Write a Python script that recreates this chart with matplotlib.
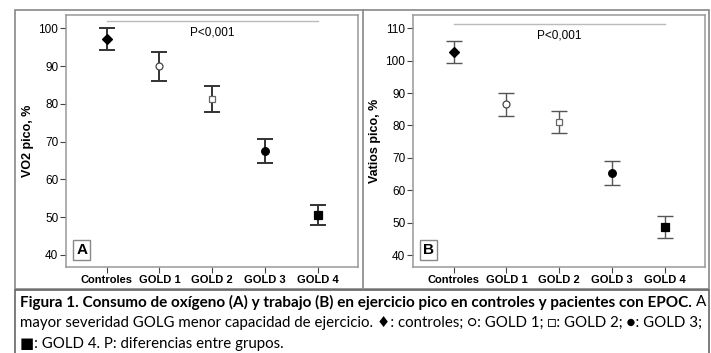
import matplotlib
matplotlib.use("Agg")
import matplotlib.pyplot as plt
from matplotlib.patches import Rectangle

# datos (media e IC)
grupos = ["Controles", "GOLD 1", "GOLD 2", "GOLD 3", "GOLD 4"]
vo2_media = [97.2, 90.0, 81.3, 67.5, 50.6]
vo2_sup = [100.0, 93.8, 84.6, 70.8, 53.3]
vo2_inf = [94.3, 86.1, 77.8, 64.3, 48.0]
vat_media = [102.6, 86.5, 81.1, 65.3, 48.6]
vat_sup = [106.2, 89.9, 84.4, 69.0, 51.9]
vat_inf = [99.2, 83.0, 77.7, 61.5, 45.4]

marcadores = ["D", "o", "s", "o", "s"]
tamanos = [5.5, 5, 5, 5.5, 5.5]
rellenos = ["black", "white", "white", "black", "black"]
bordes = ["black", "#444444", "#666666", "black", "black"]

W, H = 711, 353
fig = plt.figure(figsize=(W / 100, H / 100), dpi=100)
fig.patch.set_facecolor("white")


def px_axes(x0, y0, x1, y1):
    return fig.add_axes([x0 / W, 1 - y1 / H, (x1 - x0) / W, (y1 - y0) / H])


def panel(ax, media, sup, inf, ylim, yticks, ylabel, p_y, letra, ecol, elw):
    x = list(range(len(grupos)))
    for i in x:
        ax.errorbar(i, media[i], yerr=[[media[i] - inf[i]], [sup[i] - media[i]]],
                    fmt="none", ecolor=ecol, elinewidth=elw, capsize=5.5,
                    capthick=elw, zorder=2)
        ax.plot(i, media[i], marker=marcadores[i], ms=tamanos[i],
                mfc=rellenos[i], mec=bordes[i], mew=0.9, ls="none", zorder=3)
    ax.set_xlim(-0.77, 4.76)
    ax.set_ylim(*ylim)
    ax.set_yticks(yticks)
    ax.set_xticks(x)
    ax.set_xticklabels(grupos, fontweight="bold", fontsize=8, family="Liberation Sans")
    for lab in ax.get_yticklabels():
        lab.set_fontsize(8.5)
        lab.set_family("Liberation Sans")
    ax.tick_params(axis="both", length=4, width=0.8, color="#444444", pad=1.5)
    ax.set_ylabel(ylabel, fontweight="bold", fontsize=9, family="Liberation Sans", labelpad=3)
    for s in ax.spines.values():
        s.set_color("#999999")
        s.set_linewidth(1.1)
    # línea de diferencias entre grupos
    ax.plot([0, 4], [p_y, p_y], color="#bbbbbb", lw=1, zorder=1)
    ax.text(2, p_y - (ylim[1] - ylim[0]) * 0.045, "P<0,001", ha="center", va="center",
            fontsize=8.5, family="Liberation Sans")
    ax.text(0.035, 0.04, letra, transform=ax.transAxes, fontsize=11, fontweight="bold",
            family="Liberation Sans", ha="left", va="bottom",
            bbox=dict(boxstyle="square,pad=0.2", fc="white", ec="#888888", lw=1))


axA = px_axes(66, 15, 358, 267)
panel(axA, vo2_media, vo2_sup, vo2_inf, (36.8, 103.5), range(40, 101, 10),
      "VO2 pico, %", 101.9, "A", "#333333", 1.4)
axB = px_axes(413, 15, 705, 267)
panel(axB, vat_media, vat_sup, vat_inf, (36.3, 114.1), range(40, 111, 10),
      "Vatios pico, %", 111.2, "B", "#555555", 1.0)

# marcos de los paneles y del pie de figura
marco = "#888888"
fig.add_artist(Rectangle((15 / W, 1 - 289 / H), (709 - 15) / W, (289 - 10) / H,
                         transform=fig.transFigure, fill=False, ec=marco, lw=1.2))
fig.add_artist(plt.Line2D([363 / W, 363 / W], [1 - 289 / H, 1 - 10 / H],
                          transform=fig.transFigure, color=marco, lw=1.2))
fig.add_artist(Rectangle((15 / W, -0.01), (709 - 15) / W, 1 - 290 / H + 0.01,
                         transform=fig.transFigure, fill=False, ec="#666666", lw=1.2))

# pie de figura: cada línea se ajusta al ancho de la caja
fam = ["Lato", "DejaVu Sans"]
lineas_y = [302, 323, 344]


def linea(txt, y, x_fin, peso="normal", fs=11):
    t = fig.text(20 / W, 1 - y / H, txt, fontsize=fs, fontweight=peso, family=fam, va="center")
    fig.canvas.draw()
    ancho = t.get_window_extent().width
    t.set_fontsize(fs * (x_fin - 20) / ancho)
    fig.canvas.draw()
    return t


t1 = linea("Figura 1. Consumo de oxígeno (A) y trabajo (B) en ejercicio pico en controles y pacientes con EPOC.",
           lineas_y[0], 693, "bold")
fs_reg = t1.get_fontsize()
bb = t1.get_window_extent()
fig.text(bb.x1 / W + 4 / W, 1 - lineas_y[0] / H, "A", fontsize=fs_reg, family=fam, va="center")
t2 = linea("mayor severidad GOLG menor capacidad de ejercicio. \u2666: controles; \u25cb: GOLD 1; \u25a1: GOLD 2; \u25cf: GOLD 3;",
           lineas_y[1], 701)
fig.text(20 / W, 1 - lineas_y[2] / H, "\u25a0: GOLD 4. P: diferencias entre grupos.",
         fontsize=t2.get_fontsize(), family=fam, va="center")

fig.savefig("out.png", dpi=100)
